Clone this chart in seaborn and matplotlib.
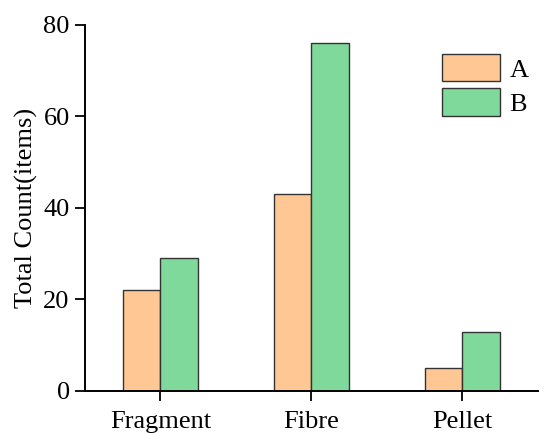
import matplotlib.pyplot as plt
import pandas as pd
import seaborn as sns

# Data
categories = ["Fragment", "Fibre", "Pellet"]
values_a = [22, 43, 5]
values_b = [29, 76, 13]
groups = ["A", "B"]
colors = ["#FFC794", "#7ED99A"]

df = pd.DataFrame({
    "type": categories * 2,
    "group": ["A"] * len(categories) + ["B"] * len(categories),
    "count": values_a + values_b,
})

sns.set_style("ticks")
plt.rcParams["font.family"] = ["Liberation Serif", "DejaVu Serif"]
plt.rcParams["text.color"] = "black"
plt.rcParams["axes.labelcolor"] = "black"
plt.rcParams["xtick.color"] = "black"
plt.rcParams["ytick.color"] = "black"

fig = plt.figure(figsize=(5.5, 4.43), dpi=100)
ax = fig.add_axes([0.1545, 0.1174, 0.8235, 0.8262])

sns.barplot(data=df, x="type", y="count", hue="group", order=categories,
            hue_order=groups, palette=colors, width=0.5, gap=0,
            edgecolor="#333333", linewidth=1.0, saturation=1, ax=ax)

ax.set_xlim(-0.5, 2.5)
ax.set_ylim(0, 80)
ax.set_yticks([0, 20, 40, 60, 80])
ax.set_xlabel("")
ax.set_ylabel("Total Count(items)", fontsize=19, labelpad=4)
ax.tick_params(axis="both", labelsize=19, width=1.3, length=7.5, direction="out")
ax.tick_params(axis="x", pad=7)
sns.despine(ax=ax)
for side in ["left", "bottom"]:
    ax.spines[side].set_linewidth(1.4)
    ax.spines[side].set_color("black")

ax.legend(title=None, fontsize=19, frameon=False, loc="upper right",
          bbox_to_anchor=(1.02, 0.97), handlelength=2.2, handleheight=1.2,
          labelspacing=0.25, handletextpad=0.35, borderpad=0.2)

fig.savefig("out.png", dpi=100)
